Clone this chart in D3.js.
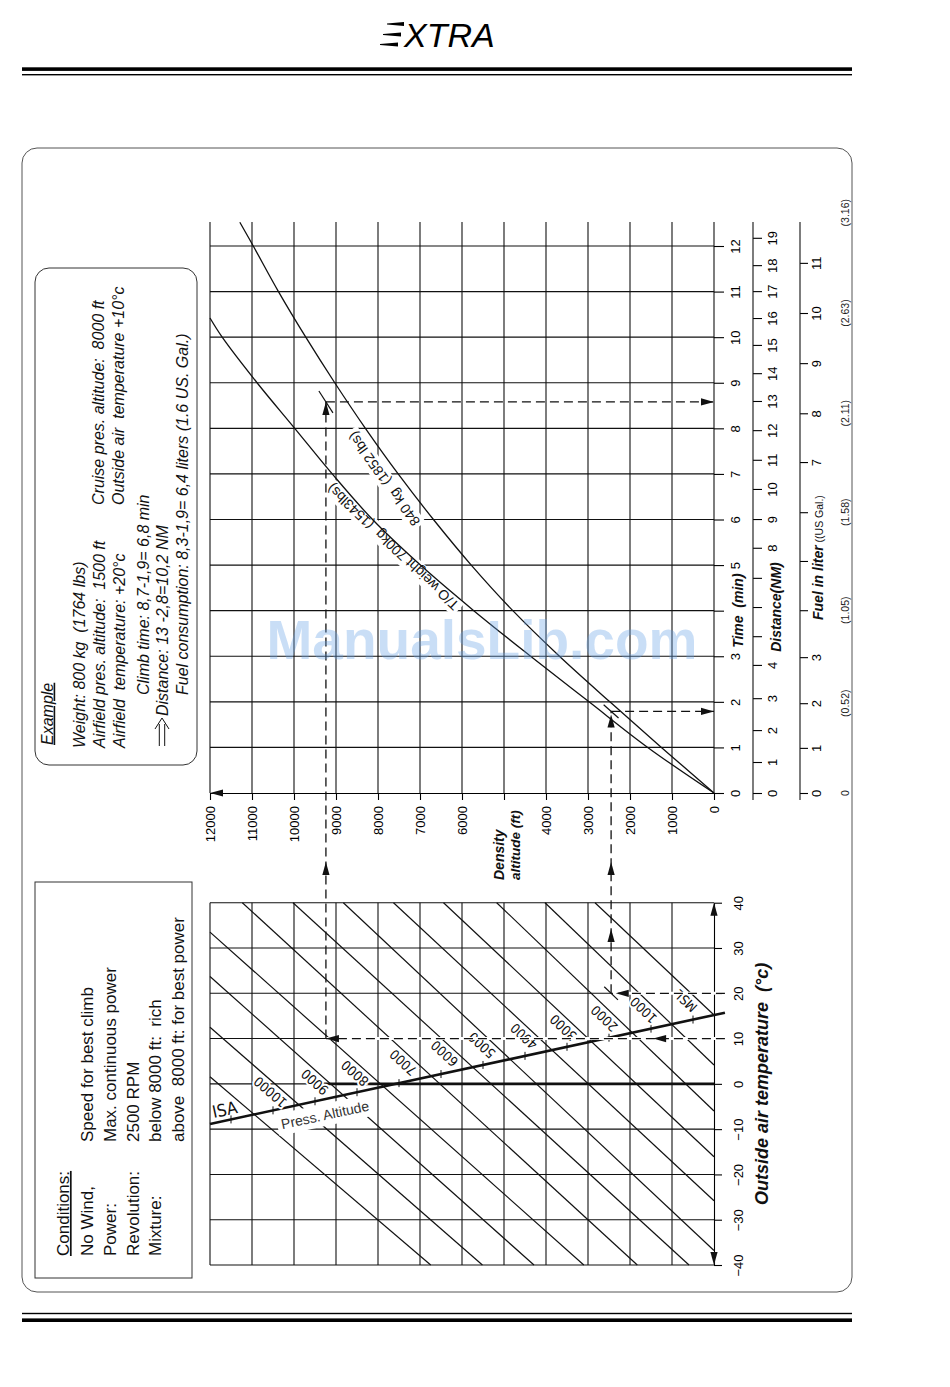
<!DOCTYPE html>
<html>
<head>
<meta charset="utf-8">
<title>Climb performance chart</title>
<script src="https://cdn.jsdelivr.net/npm/d3@7"></script>
<style>
  body { margin: 0; background: #fff; }
  svg { display: block; }
  text { white-space: pre; }
</style>
</head>
<body>
<svg id="chart" width="950" height="1387"></svg>
<script>
(function () {
  // Axis ticks and labels
  var densityTicks = [0, 1000, 2000, 3000, 4000, 5000, 6000, 7000, 8000, 9000, 10000, 11000, 12000]
  var densityLabels = ['0', '1000', '2000', '3000', '4000', '', '6000', '7000', '8000', '9000', '10000', '11000', '12000']
  var timeTicks = [0, 1, 2, 3, 4, 5, 6, 7, 8, 9, 10, 11, 12]
  var timeLabels = ['0', '1', '2', '3', '', '5', '6', '7', '8', '9', '10', '11', '12']
  var tempTicks = [-40, -30, -20, -10, 0, 10, 20, 30, 40]
  var distanceTicks = [0, 1, 2, 3, 4, 5, 6, 7, 8, 9, 10, 11, 12, 13, 14, 15, 16, 17, 18, 19]
  var distanceLabels = ['0', '1', '2', '3', '4', '', '', '', '8', '9', '10', '11', '12', '13', '14', '15', '16', '17', '18', '19']
  // where each distance tick sits on the time scale (min)
  var distanceAtTime = [0, 0.68, 1.38, 2.08, 2.81, 3.44, 4.08, 4.72, 5.38, 6.01, 6.67, 7.31, 7.96, 8.60, 9.21, 9.83, 10.42, 11.01, 11.58, 12.18]
  var fuelTicks = [0, 1, 2, 3, 4, 5, 6, 7, 8, 9, 10, 11]
  var fuelLabels = ['0', '1', '2', '3', '', '', '', '7', '8', '9', '10', '11']
  var fuelAtTime = [0, 0.99, 1.97, 2.98, 4.01, 5.09, 6.16, 7.26, 8.33, 9.43, 10.53, 11.63]
  var galLabels = ['0', '(0.52)', '(1.05)', '(1.58)', '(2.11)', '(2.63)', '(3.16)']
  var galAtTime = [0, 1.97, 4.01, 6.16, 8.33, 10.53, 12.73]

  // Climb curves: [density altitude (ft), time (min)]
  var climb700 = [[0, 0], [1578, 1], [2976, 2], [4367, 3], [5720, 4], [6990, 5], [8130, 6], [9090, 7], [9983, 8], [10880, 9], [11710, 10], [12000, 10.42]]
  var climb840 = [[0, 0], [1252, 1], [2480, 2], [3680, 3], [4790, 4], [5780, 5], [6680, 6], [7520, 7], [8300, 8], [9030, 9], [9720, 10], [10370, 11], [10970, 12], [11290, 12.52]]

  // Pressure altitude lines, ends as [temperature (C), density altitude (ft)]
  var paValues = [0, 1000, 2000, 3000, 4000, 5000, 6000, 7000, 8000, 9000, 10000, 11000]
  var paLabels = ['MSL', '1000', '2000', '3000', '4000', '5000', '6000', '7000', '8000', '9000', '10000', '']
  var paStart = [[40, 2833], [40, 4024], [40, 5174], [40, 6440], [40, 7631], [40, 8825], [40, 10024], [40, 11230], [33.5, 12000], [23.7, 12000], [12.5, 12000], [1.56, 12000]]
  var paEnd = [[15.2, 0], [4.16, 0], [-6.0, 0], [-16.1, 0], [-25.8, 0], [-36.8, 0], [-40, 595], [-40, 1826], [-40, 3100], [-40, 4286], [-40, 5514], [-40, 6745]]
  var isaDA = [0, 12000]
  var isaTemp = [15.2, -8.86]
  var isaTickDA = [500, 1500, 2500, 3500, 4500, 5500, 6500, 7500, 8500, 9500, 10500, 11500]

  // Worked example: airfield and cruise
  var exampleTemp = [20, 10]
  var exampleDA = [2450, 9240]
  var exampleTime = [1.79, 8.58]

  var FONT = "'Liberation Sans', Arial, Helvetica, sans-serif"
  var TECH = "'DejaVu Sans Condensed', 'DejaVu Sans', sans-serif"
  var INK = '#111'

  var svg = d3.select('#chart').attr('font-family', FONT)

  var xDA = d3.scaleLinear().domain([0, 12000]).range([714, 210])
  var yTime = d3.scaleLinear().domain([0, 12]).range([793, 246])
  var yTemp = d3.scaleLinear().domain([-40, 40]).range([1265, 902.7])
  var yDist = d3.scaleLinear().domain(distanceTicks).range(distanceAtTime.map(yTime))
  var yFuel = d3.scaleLinear().domain(fuelTicks).range(fuelAtTime.map(yTime))
  var isaAt = d3.scaleLinear().domain(isaDA).range(isaTemp)
  var t700 = d3.scaleLinear().domain(climb700.map(function (d) { return d[0] })).range(climb700.map(function (d) { return d[1] }))
  var t840 = d3.scaleLinear().domain(climb840.map(function (d) { return d[0] })).range(climb840.map(function (d) { return d[1] }))

  function vText(parent, x, y, str, size, anchor) {
    return parent.append('text')
      .attr('transform', 'translate(' + x + ',' + y + ') rotate(-90)')
      .attr('dy', '0.35em')
      .attr('font-size', size)
      .attr('text-anchor', anchor || 'start')
      .text(str)
  }

  function arrowHead(x, y, dir) {
    var L = 13
    var W = 3.6
    var p
    if (dir === 'left') p = [[x, y], [x + L, y - W], [x + L, y + W]]
    if (dir === 'right') p = [[x, y], [x - L, y - W], [x - L, y + W]]
    if (dir === 'up') p = [[x, y], [x - W, y + L], [x + W, y + L]]
    if (dir === 'down') p = [[x, y], [x - W, y - L], [x + W, y - L]]
    svg.append('path').attr('d', 'M' + p.join('L') + 'Z').attr('fill', INK)
  }

  function unit(dx, dy) {
    var l = Math.sqrt(dx * dx + dy * dy)
    return [dx / l, dy / l]
  }

  // ---------- page frame and header ----------
  svg.append('rect').attr('x', 22).attr('y', 67.3).attr('width', 830).attr('height', 3.6).attr('fill', '#000')
  svg.append('rect').attr('x', 22).attr('y', 74).attr('width', 830).attr('height', 1.4).attr('fill', '#000')
  svg.append('rect').attr('x', 22).attr('y', 1312.8).attr('width', 830).attr('height', 1.4).attr('fill', '#000')
  svg.append('rect').attr('x', 22).attr('y', 1318.4).attr('width', 830).attr('height', 3.6).attr('fill', '#000')
  svg.append('rect').attr('x', 22).attr('y', 148).attr('width', 830).attr('height', 1144)
    .attr('rx', 15).attr('fill', 'none').attr('stroke', '#555').attr('stroke-width', 1)

  ;[[387, 404, 24], [383, 401, 34.5], [380, 398, 44.5]].forEach(function (b) {
    svg.append('path')
      .attr('d', 'M' + b[0] + ',' + (b[2] - 0.6) + 'L' + b[1] + ',' + (b[2] - 2) + 'L' + b[1] + ',' + (b[2] + 2) + 'L' + b[0] + ',' + (b[2] + 0.6) + 'Z')
      .attr('fill', '#000')
  })
  svg.append('text').attr('x', 404).attr('y', 46.7).attr('font-size', 34).attr('font-style', 'italic').text('XTRA')

  // ---------- conditions box ----------
  var cond = svg.append('g').attr('fill', INK)
  cond.append('rect').attr('x', 35).attr('y', 882).attr('width', 157).attr('height', 396)
    .attr('fill', 'none').attr('stroke', '#333').attr('stroke-width', 1)
  vText(cond, 63, 1256, 'Conditions:', 17).attr('text-decoration', 'underline')
  var condRows = [['No Wind,', 'Speed for best climb'], ['Power:', 'Max. continuous power'], ['Revolution:', '2500 RPM'], ['Mixture:', 'below 8000 ft:  rich'], ['', 'above  8000 ft: for best power']]
  condRows.forEach(function (r, i) {
    var x = 87 + i * 22.8
    if (r[0]) vText(cond, x, 1256, r[0], 17)
    vText(cond, x, 1142, r[1], 17)
  })

  // ---------- example box ----------
  var ex = svg.append('g').attr('fill', INK).attr('font-style', 'italic')
  ex.append('rect').attr('x', 35).attr('y', 268).attr('width', 162).attr('height', 497).attr('rx', 14)
    .attr('fill', 'none').attr('stroke', '#333').attr('stroke-width', 1)
  vText(ex, 47, 745, 'Example', 16).attr('text-decoration', 'underline')
  vText(ex, 79, 748, 'Weight: 800 kg  (1764 lbs)', 16)
  vText(ex, 99, 748, 'Airfield pres. altitude:  1500 ft', 16)
  vText(ex, 119, 748, 'Airfield  temperature: +20\u00b0c', 16)
  vText(ex, 98, 505, 'Cruise pres. altitude:  8000 ft', 16)
  vText(ex, 118, 505, 'Outside air  temperature +10\u00b0c', 16)
  vText(ex, 143, 695, 'Climb time: 8,7-1,9= 6,8 min', 16)
  vText(ex, 162, 716, 'Distance: 13 -2,8=10,2 NM', 16)
  vText(ex, 182, 695, 'Fuel consumption: 8,3-1,9= 6,4 liters (1.6 US. Gal.)', 16)
  ex.append('path').attr('d', 'M159.3,746V724M164.7,746V724M155,729L162,718L169,729')
    .attr('fill', 'none').attr('stroke', INK).attr('stroke-width', 1)

  // ---------- grids ----------
  var grid = svg.append('g').attr('stroke', INK).attr('stroke-width', 1.1)
  grid.selectAll('.vu').data(densityTicks).enter().append('line').attr('class', 'vu')
    .attr('x1', xDA).attr('x2', xDA).attr('y1', 222).attr('y2', yTime(0))
  grid.selectAll('.hu').data(timeTicks.slice(1)).enter().append('line').attr('class', 'hu')
    .attr('x1', xDA(12000)).attr('x2', xDA(0)).attr('y1', yTime).attr('y2', yTime)
  grid.selectAll('.vl').data(densityTicks.slice(1)).enter().append('line').attr('class', 'vl')
    .attr('x1', xDA).attr('x2', xDA).attr('y1', yTemp(40)).attr('y2', yTemp(-40))
  grid.selectAll('.hl').data(tempTicks).enter().append('line').attr('class', 'hl')
    .attr('x1', xDA(12000)).attr('x2', xDA(0)).attr('y1', yTemp).attr('y2', yTemp)
  grid.append('line').attr('x1', xDA(9330)).attr('x2', xDA(0)).attr('y1', yTemp(0)).attr('y2', yTemp(0))
    .attr('stroke-width', 2.6)

  // ---------- axes ----------
  function styleAxis(g) {
    g.attr('font-family', FONT).attr('font-size', 13)
    g.selectAll('line').attr('stroke-width', 1.1)
    g.selectAll('path').attr('stroke-width', 1.1)
  }
  function rotateTicks(g, dx, dy, anchor) {
    g.selectAll('.tick text')
      .attr('x', 0).attr('y', 0).attr('dy', '0.35em')
      .attr('text-anchor', anchor)
      .attr('transform', 'translate(' + dx + ',' + dy + ') rotate(-90)')
  }

  var daAxis = svg.append('g').attr('transform', 'translate(0,' + yTime(0) + ')')
    .call(d3.axisBottom(xDA).tickValues(densityTicks).tickSize(7).tickSizeOuter(0)
      .tickFormat(function (d, i) { return densityLabels[i] }))
  styleAxis(daAxis)
  rotateTicks(daAxis, 0, 13, 'end')
  arrowHead(xDA(12000), yTime(0), 'left')

  var timeAxis = svg.append('g').attr('transform', 'translate(' + xDA(0) + ',0)')
    .call(d3.axisRight(yTime).tickValues(timeTicks).tickSize(10)
      .tickFormat(function (d, i) { return timeLabels[i] }))
  timeAxis.select('.domain').remove()
  styleAxis(timeAxis)
  rotateTicks(timeAxis, 21, 0, 'middle')

  var tempAxis = svg.append('g').attr('transform', 'translate(' + xDA(0) + ',0)')
    .call(d3.axisRight(yTemp).tickValues(tempTicks).tickSize(8).tickSizeOuter(0))
  styleAxis(tempAxis)
  rotateTicks(tempAxis, 24, 0, 'middle')
  arrowHead(xDA(0), yTemp(40), 'up')
  arrowHead(xDA(0), yTemp(-40), 'down')

  var distAxis = svg.append('g').attr('transform', 'translate(753,0)')
    .call(d3.axisRight(yDist).tickValues(distanceTicks).tickSize(9)
      .tickFormat(function (d, i) { return distanceLabels[i] }))
  distAxis.select('.domain').remove()
  distAxis.append('line').attr('y1', 222).attr('y2', 800).attr('stroke', INK)
  styleAxis(distAxis)
  rotateTicks(distAxis, 19, 0, 'middle')

  var fuelAxis = svg.append('g').attr('transform', 'translate(800,0)')
    .call(d3.axisRight(yFuel).tickValues(fuelTicks).tickSize(8)
      .tickFormat(function (d, i) { return fuelLabels[i] }))
  fuelAxis.select('.domain').remove()
  fuelAxis.append('line').attr('y1', 222).attr('y2', 800).attr('stroke', INK)
  styleAxis(fuelAxis)
  rotateTicks(fuelAxis, 16, 0, 'middle')

  var gal = svg.append('g').attr('fill', '#222')
  galLabels.forEach(function (s, i) {
    vText(gal, 845, yTime(galAtTime[i]), s, 10.5, 'middle')
  })

  // axis titles
  var titles = svg.append('g').attr('fill', INK).attr('font-weight', 'bold').attr('font-style', 'italic')
  vText(titles, 738, yTime(4), 'Time  (min)', 14, 'middle')
  vText(titles, 776, yDist(6), 'Distance(NM)', 14, 'middle')
  var fuelTitle = vText(titles, 818, 620, 'Fuel in liter', 14)
  fuelTitle.append('tspan').attr('font-weight', 'normal').attr('font-style', 'normal').attr('font-size', 10.5).text(' ((US Gal.)')
  vText(titles, 499, 880, 'Density', 14)
  vText(titles, 515, 880, 'altitude (ft)', 13.5)
  vText(titles, 762, (yTemp(40) + yTemp(-40)) / 2, 'Outside air temperature  (\u00b0c)', 18, 'middle')

  // ---------- pressure altitude chart ----------
  var isaA = [xDA(isaDA[0]), yTemp(isaTemp[0])]
  var isaB = [xDA(isaDA[1]), yTemp(isaTemp[1])]
  var isaAngle = Math.atan2(isaA[1] - isaB[1], isaA[0] - isaB[0]) * 180 / Math.PI

  svg.append('g').attr('stroke', INK).attr('stroke-width', 1.2)
    .selectAll('line').data(paValues).enter().append('line')
    .attr('x1', function (d, i) { return xDA(paStart[i][1]) })
    .attr('y1', function (d, i) { return yTemp(paStart[i][0]) })
    .attr('x2', function (d, i) { return xDA(paEnd[i][1]) })
    .attr('y2', function (d, i) { return yTemp(paEnd[i][0]) })

  // Press. Altitude label with white ground
  var pg = svg.append('g').attr('transform', 'translate(' + xDA(9262) + ',' + yTemp(-6.88) + ') rotate(' + isaAngle + ')')
  var pt = pg.append('text').attr('text-anchor', 'middle').attr('dy', '0.35em').attr('font-size', 14).attr('fill', '#333').text('Press. Altitude')
  var pb = pt.node().getBBox()
  pg.insert('rect', 'text').attr('x', pb.x - 4).attr('y', pb.y - 3).attr('width', pb.width + 8).attr('height', pb.height + 6).attr('fill', '#fff')

  // ISA line and its ticks
  svg.append('line').attr('x1', xDA(-260)).attr('y1', yTemp(isaAt(-260)))
    .attr('x2', xDA(12000)).attr('y2', yTemp(isaAt(12000)))
    .attr('stroke', INK).attr('stroke-width', 2.6)
  svg.append('g').attr('stroke', INK).attr('stroke-width', 1)
    .selectAll('line').data(isaTickDA).enter().append('line')
    .attr('x1', xDA).attr('x2', xDA)
    .attr('y1', function (d) { return yTemp(isaAt(d)) - 4 })
    .attr('y2', function (d) { return yTemp(isaAt(d)) + 4 })

  // labels along pressure altitude lines, just above ISA
  function crossing(a1, a2, b1, b2) {
    var d = (a2[0] - a1[0]) * (b2[1] - b1[1]) - (a2[1] - a1[1]) * (b2[0] - b1[0])
    var t = ((b1[0] - a1[0]) * (b2[1] - b1[1]) - (b1[1] - a1[1]) * (b2[0] - b1[0])) / d
    return [a1[0] + t * (a2[0] - a1[0]), a1[1] + t * (a2[1] - a1[1])]
  }
  var paLabelLayer = svg.append('g').attr('font-family', TECH).attr('font-size', 13.5).attr('fill', INK)
    .attr('stroke', '#fff').attr('stroke-width', 4).attr('paint-order', 'stroke')
  paValues.forEach(function (p, i) {
    if (!paLabels[i]) return
    var s = [xDA(paStart[i][1]), yTemp(paStart[i][0])]
    var e = [xDA(paEnd[i][1]), yTemp(paEnd[i][0])]
    var c = crossing(s, e, isaA, isaB)
    var u = unit(s[0] - e[0], s[1] - e[1])
    var ang = Math.atan2(u[1], u[0])
    var up = [Math.sin(ang), -Math.cos(ang)]
    var cx = c[0] + 30 * u[0] + 9 * up[0]
    var cy = c[1] + 30 * u[1] + 9 * up[1]
    paLabelLayer.append('text')
      .attr('transform', 'translate(' + cx + ',' + cy + ') rotate(' + ang * 180 / Math.PI + ')')
      .attr('text-anchor', 'middle').attr('dy', '0.35em')
      .text(paLabels[i])
  })
  svg.append('text')
    .attr('transform', 'translate(' + xDA(11650) + ',' + yTemp(-5.7) + ') rotate(' + isaAngle + ')')
    .attr('text-anchor', 'middle').attr('dy', '0.35em')
    .attr('font-family', TECH).attr('font-size', 17).attr('fill', INK).text('ISA')

  // ---------- climb curves ----------
  function curveLabel(scale, da, t, str) {
    var ang = Math.atan2(yTime(scale(da + 300)) - yTime(scale(da - 300)), xDA(da + 300) - xDA(da - 300)) * 180 / Math.PI
    var g = svg.append('g').attr('transform', 'translate(' + xDA(da) + ',' + yTime(t) + ') rotate(' + ang + ')')
    var txt = g.append('text').attr('text-anchor', 'middle').attr('dy', '0.35em').attr('font-size', 14).attr('fill', INK).text(str)
    var b = txt.node().getBBox()
    g.insert('rect', 'text').attr('x', b.x - 3).attr('y', b.y - 1).attr('width', b.width + 6).attr('height', b.height + 2).attr('fill', '#fff')
  }
  curveLabel(t700, 7643, 5.40, 'T/O weight 700kg  (1543lbs)')
  curveLabel(t840, 7857, 6.89, '840 kg  (1852 lbs)')

  var line = d3.line()
    .x(function (d) { return xDA(d[0]) })
    .y(function (d) { return yTime(d[1]) })
    .curve(d3.curveCatmullRom.alpha(0.5))
  svg.append('g').attr('fill', 'none').attr('stroke', INK).attr('stroke-width', 1.3)
    .selectAll('path').data([climb700, climb840]).enter().append('path')
    .attr('d', line)

  // ---------- example construction ----------
  var dash = svg.append('g').attr('fill', 'none').attr('stroke', INK).attr('stroke-width', 1.3)
  function dashed(x1, y1, x2, y2, erase) {
    if (erase) {
      dash.append('line').attr('x1', x1).attr('y1', y1).attr('x2', x2).attr('y2', y2)
        .attr('stroke', '#fff').attr('stroke-width', 3)
    }
    dash.append('line').attr('x1', x1).attr('y1', y1).attr('x2', x2).attr('y2', y2)
      .attr('stroke-dasharray', '9,5')
  }
  function segment(cx, cy, u, half) {
    svg.append('line').attr('x1', cx - u[0] * half).attr('y1', cy - u[1] * half)
      .attr('x2', cx + u[0] * half).attr('y2', cy + u[1] * half)
      .attr('stroke', INK).attr('stroke-width', 1.2)
  }
  function curveDir(da) {
    return unit(xDA(da + 300) - xDA(da - 300), yTime(t840(da + 300)) - yTime(t840(da - 300)))
  }
  var betweenY = 862

  exampleTemp.forEach(function (temp, i) {
    var xv = xDA(exampleDA[i])
    var yt = yTemp(temp)
    var yc = yTime(exampleTime[i])
    dashed(xDA(-260), yt, xv, yt, true)
    dashed(xv, yt, xv, yc)
    dashed(xv, yc, xDA(0), yc)
    arrowHead(xDA(0), yc, 'right')
    arrowHead(xv, betweenY, 'up')
    segment(xv, yc, curveDir(exampleDA[i]), i === 0 ? 10 : 13)
  })
  // airfield leg
  arrowHead(xDA(2340), yTemp(exampleTemp[0]), 'left')
  arrowHead(xDA(exampleDA[0]), yTemp(34.2), 'up')
  arrowHead(xDA(exampleDA[0]), yTime(exampleTime[0]) + 3, 'up')
  segment(xDA(exampleDA[0]), yTemp(exampleTemp[0]),
    unit(xDA(paStart[1][1]) - xDA(paEnd[1][1]), yTemp(paStart[1][0]) - yTemp(paEnd[1][0])), 9.5)
  // cruise leg
  arrowHead(xDA(1450), yTemp(exampleTemp[1]), 'left')
  arrowHead(xDA(exampleDA[1]), yTemp(exampleTemp[1]), 'left')
  arrowHead(xDA(exampleDA[1]), yTime(exampleTime[1]), 'up')

  // watermark
  svg.append('text').attr('x', 482).attr('y', 640).attr('dy', '0.35em')
    .attr('text-anchor', 'middle').attr('font-size', 55).attr('font-weight', 'bold')
    .attr('fill', 'rgb(100,160,230)').attr('fill-opacity', 0.35)
    .text('ManualsLib.com')
})()
</script>
</body>
</html>
